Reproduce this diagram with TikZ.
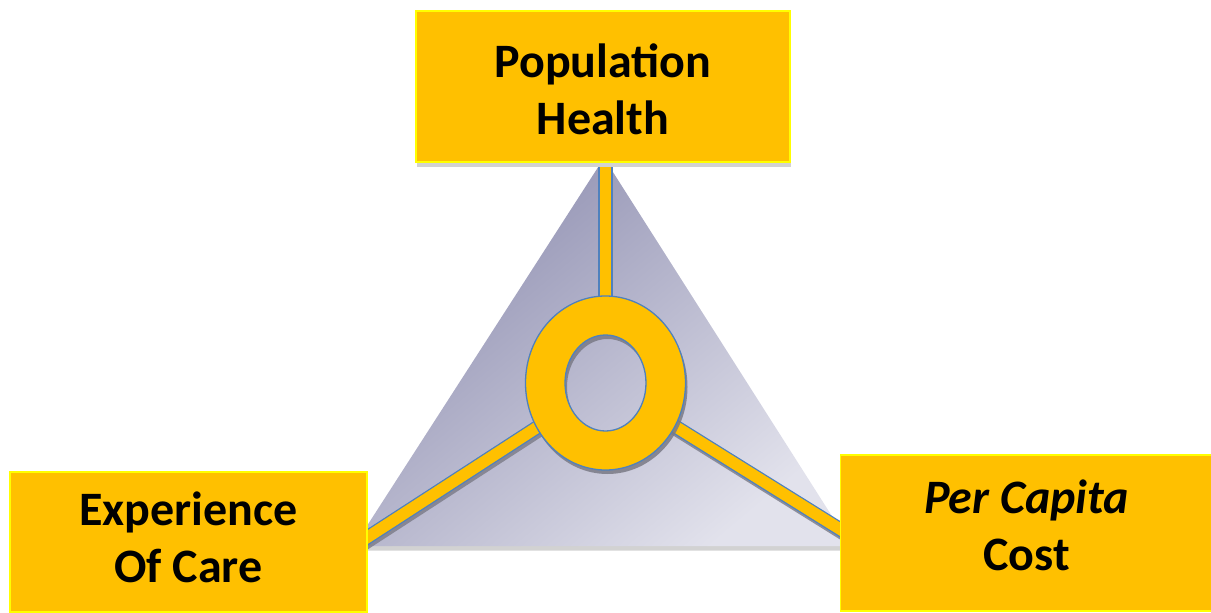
\documentclass[tikz,border=0pt]{standalone}
\usepackage{fontspec}
\setmainfont{Carlito}
\usetikzlibrary{shapes.geometric,shadows}
\pgfdeclarelayer{back}
\pgfdeclarelayer{mid}
\pgfsetlayers{back,mid,main}
\definecolor{gold}{HTML}{FFC000}
\definecolor{ybord}{HTML}{FFFF00}
\definecolor{sblue}{HTML}{4F81BD}
\definecolor{tdark}{HTML}{8E8EB0}
\definecolor{tlight}{HTML}{E2E2EC}
\definecolor{shgray}{HTML}{D2D2D2}
\definecolor{dshadow}{HTML}{7A7A86}
\begin{document}
\begin{tikzpicture}[x=1pt,y=-1pt,
  box/.style={draw=ybord, line width=1.5pt, fill=gold, inner sep=0pt},
  boxtext/.style={inner sep=0pt, align=center, font=\fontsize{48}{57}\selectfont\bfseries, text=black},
  boxshadow/.style={drop shadow={shadow xshift=1pt, shadow yshift=-4.5pt, fill=shgray, opacity=1}},
  spoke/.style={draw=sblue, line width=1.3pt, double=gold, double distance=11.5pt, shorten <=-12pt},
  spokeshadow/.style={draw=dshadow, line width=14pt, opacity=0.8},
  ringpath/.style={fill=gold, draw=sblue, line width=1.3pt, even odd rule}]
\useasboundingbox (0,0) rectangle (1211,613);

% boxes
\node[box, boxshadow, minimum width=374, minimum height=151] (top) at (603,86.5) {};
\node[box, minimum width=357, minimum height=140] (left) at (188.5,542) {};
\node[box, minimum width=372, minimum height=156] (right) at (1026.5,533) {};
\node[boxtext] (toptext) at (603,89.5) {Population\\Health};
\node[boxtext] (lefttext) at (188.5,537) {Experience\\Of Care};
\node[boxtext] (righttext) at (1026.5,525) {\itshape Per Capita\\Cost};

% ring centre and triangle corners
\node[ellipse, minimum width=160, minimum height=174, inner sep=0pt] (ring) at (605.5,383) {};
\coordinate (apex) at (604,158);
\coordinate (bl) at (354,546);
\coordinate (br) at (851,546);
\coordinate (rs) at (851,536);

\begin{pgfonlayer}{back}
  \fill[shgray] ([yshift=-4.5pt]apex) -- ([yshift=-4.5pt]bl) -- ([yshift=-4.5pt]br) -- cycle;
  \shade[top color=tdark, bottom color=tlight, shading angle=40] (apex) -- (bl) -- (br) -- cycle;
\end{pgfonlayer}

\begin{pgfonlayer}{mid}
  % spoke shadows
  \draw[spokeshadow, shorten <=-12pt, transform canvas={xshift=1.5pt, yshift=-3pt}] (ring) -- (bl);
  \draw[spokeshadow, shorten <=-12pt, transform canvas={xshift=1.5pt, yshift=-3pt}] (ring) -- (rs);
  % spokes
  \draw[spoke] (ring) -- (ring.center |- top.south);
  \draw[spoke] (ring) -- (bl);
  \draw[spoke] (ring) -- (rs);
  % ring shadow
  \fill[dshadow, opacity=0.85, even odd rule, transform canvas={xshift=2pt, yshift=-4pt}]
    (ring.center) ellipse [x radius=80, y radius=87]
    (ring.center) ellipse [x radius=40.5, y radius=48];
  % ring
  \path[ringpath] (ring.center) ellipse [x radius=80, y radius=87]
    (ring.center) ellipse [x radius=40.5, y radius=48];
\end{pgfonlayer}
\end{tikzpicture}
\end{document}
